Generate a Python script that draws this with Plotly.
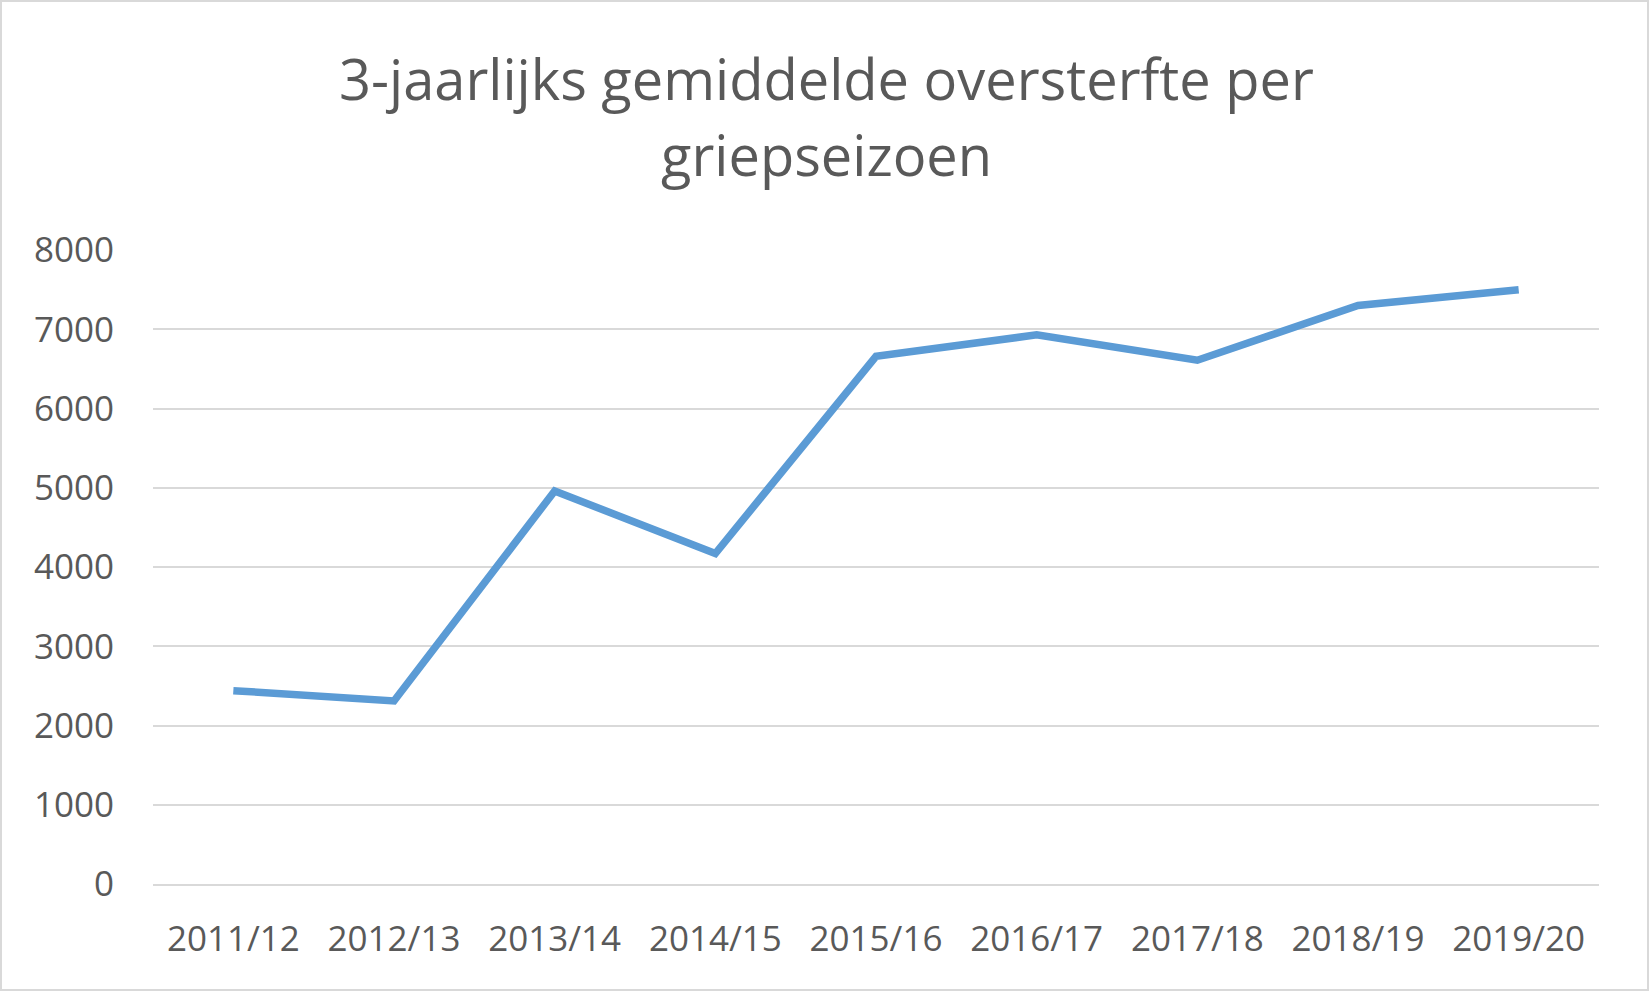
import plotly.graph_objects as go

seasons = ["2011/12", "2012/13", "2013/14", "2014/15", "2015/16",
           "2016/17", "2017/18", "2018/19", "2019/20"]
oversterfte = [2440, 2310, 4960, 4170, 6660, 6930, 6610, 7300, 7500]
y_ticks = [0, 1000, 2000, 3000, 4000, 5000, 6000, 7000, 8000]
title_lines = ["3-jaarlijks gemiddelde oversterfte per", "griepseizoen"]

W, H = 1652, 992
L, R, T, B = 153, 53, 250, 108
pw, ph = W - L - R, H - T - B


def px_x(px):
    return (px - L) / pw


def px_y(py):
    return (H - B - py) / ph


fig = go.Figure()
fig.add_trace(go.Scatter(
    x=seasons, y=oversterfte, mode="lines",
    line=dict(color="#5B9BD5", width=7.5),
    hoverinfo="x+y", showlegend=False,
))

font_main = "Open Sans"
grey_text = "#595959"
grid = "#D9D9D9"
title_size = 56

annotations = []
for i, line in enumerate(title_lines):
    baseline = 98 + 76 * i
    annotations.append(dict(
        text=line, showarrow=False,
        xref="paper", yref="paper",
        x=px_x(W / 2), y=px_y(baseline - 0.36 * title_size),
        xanchor="center", yanchor="middle",
        font=dict(family=font_main, size=title_size, color=grey_text),
    ))

fig.update_layout(
    width=W, height=H,
    margin=dict(l=L, r=R, t=T, b=B, pad=0),
    paper_bgcolor="white", plot_bgcolor="white",
    annotations=annotations,
    xaxis=dict(
        type="category", range=[-0.5, len(seasons) - 0.5],
        showgrid=False, zeroline=False, showline=True,
        linecolor=grid, linewidth=2,
        ticks="", ticklabelstandoff=23,
        tickfont=dict(family=font_main, size=35, color=grey_text),
    ),
    yaxis=dict(
        range=[0, 8001], tickvals=y_ticks,
        showgrid=True, gridcolor=grid, gridwidth=2,
        zeroline=True, zerolinecolor=grid, zerolinewidth=2,
        showline=False, ticks="", ticklabelstandoff=38,
        tickfont=dict(family=font_main, size=35, color=grey_text),
    ),
    shapes=[dict(
        type="rect", xref="paper", yref="paper",
        x0=px_x(1), x1=px_x(W - 4),
        y0=px_y(H - 2), y1=px_y(1),
        line=dict(color=grid, width=2), fillcolor="rgba(0,0,0,0)",
        layer="below",
    )],
)

fig.write_html("out.html")
